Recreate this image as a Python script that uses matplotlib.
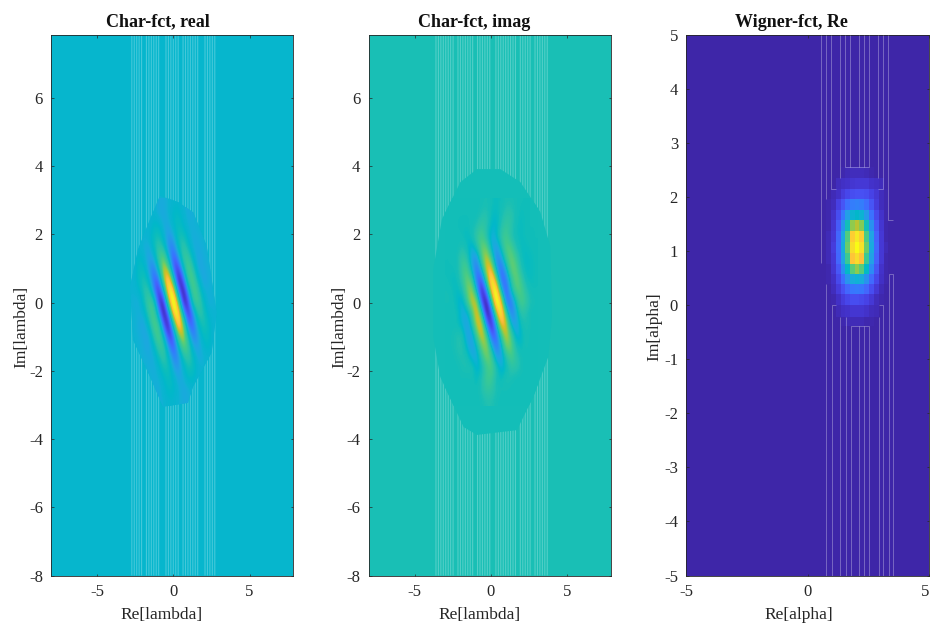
import numpy as np
import matplotlib
matplotlib.use('Agg')
import matplotlib.pyplot as plt
from matplotlib.colors import LinearSegmentedColormap, FuncNorm
from matplotlib.patches import Polygon

char_x = [-2.88, -2.56, -2.24, -1.92, -1.6, -1.28, -0.96, -0.64, -0.32, 0, 0.32, 0.64, 0.96, 1.28, 1.6, 1.92, 2.24, 2.56, 2.88]
char_re = [
    [38, 38, 38, 38, 38, 38, 36, 36, 38, 40, 40, 38, 36, 37, 38, 38, 38, 38, 38],
    [38, 38, 38, 38, 38, 40, 36, 35, 38, 42, 43, 39, 36, 37, 38, 38, 38, 38, 38],
    [38, 38, 38, 38, 38, 42, 42, 36, 35, 41, 45, 41, 37, 37, 38, 38, 38, 38, 38],
    [38, 38, 38, 38, 39, 45, 47, 39, 31, 35, 47, 47, 39, 36, 37, 38, 38, 38, 38],
    [38, 38, 39, 37, 35, 44, 53, 47, 29, 27, 43, 53, 45, 36, 36, 37, 38, 38, 38],
    [38, 39, 43, 39, 33, 35, 55, 64, 40, 18, 30, 54, 55, 41, 34, 36, 38, 38, 38],
    [38, 39, 44, 44, 33, 25, 43, 73, 64, 22, 13, 40, 61, 51, 35, 35, 37, 38, 38],
    [38, 38, 44, 49, 41, 22, 23, 65, 88, 49, 7, 19, 54, 60, 43, 34, 36, 38, 38],
    [38, 38, 40, 49, 52, 30, 11, 36, 88, 84, 26, 5, 34, 60, 53, 38, 37, 38, 38],
    [38, 37, 36, 45, 57, 52, 15, 9, 62, 100, 62, 9, 15, 52, 57, 45, 36, 37, 38],
    [38, 38, 37, 38, 53, 60, 34, 5, 26, 84, 88, 36, 11, 30, 52, 49, 40, 38, 38],
    [38, 38, 36, 34, 43, 60, 54, 19, 7, 49, 88, 65, 23, 22, 41, 49, 44, 38, 38],
    [38, 38, 37, 35, 35, 51, 61, 40, 13, 22, 64, 73, 43, 25, 33, 44, 44, 39, 38],
    [38, 38, 38, 36, 34, 41, 55, 54, 30, 18, 40, 64, 55, 35, 33, 39, 43, 39, 38],
    [38, 38, 38, 37, 36, 36, 45, 53, 43, 27, 29, 47, 53, 44, 35, 37, 39, 38, 38],
    [38, 38, 38, 38, 37, 36, 39, 47, 47, 35, 31, 39, 47, 45, 39, 38, 38, 38, 38],
    [38, 38, 38, 38, 38, 37, 37, 41, 45, 41, 35, 36, 42, 42, 38, 38, 38, 38, 38],
    [38, 38, 38, 38, 38, 37, 36, 39, 43, 42, 38, 35, 36, 40, 38, 38, 38, 38, 38],
    [38, 38, 38, 38, 38, 37, 36, 38, 40, 40, 38, 36, 36, 38, 38, 38, 38, 38, 38],
]
char_im = [
    [47, 47, 47, 47, 47, 47, 47, 48, 49, 47, 46, 47, 49, 49, 48, 47, 47, 47, 47],
    [47, 47, 47, 47, 47, 47, 47, 50, 51, 46, 45, 48, 52, 52, 48, 46, 47, 47, 47],
    [47, 47, 47, 47, 47, 47, 50, 54, 52, 44, 43, 50, 55, 52, 47, 46, 47, 47, 47],
    [47, 47, 47, 47, 45, 48, 54, 59, 50, 40, 44, 54, 58, 50, 47, 46, 47, 47, 47],
    [47, 47, 47, 50, 47, 41, 50, 63, 63, 41, 35, 48, 61, 59, 49, 46, 46, 47, 47],
    [47, 47, 48, 55, 52, 37, 33, 60, 75, 57, 29, 36, 56, 64, 57, 47, 45, 46, 47],
    [47, 47, 47, 56, 60, 42, 25, 43, 76, 80, 40, 23, 42, 63, 62, 50, 45, 46, 47],
    [47, 46, 46, 53, 64, 59, 25, 19, 59, 93, 70, 23, 27, 52, 64, 57, 47, 46, 47],
    [48, 47, 45, 47, 62, 72, 44, 6, 29, 81, 96, 47, 19, 45, 59, 60, 52, 47, 47],
    [48, 48, 45, 41, 53, 74, 72, 20, 3, 50, 98, 80, 28, 26, 47, 59, 55, 49, 48],
    [47, 47, 48, 40, 41, 55, 81, 53, 4, 19, 71, 94, 56, 28, 38, 53, 50, 47, 47],
    [47, 47, 47, 43, 36, 48, 73, 77, 30, 7, 41, 81, 75, 41, 36, 47, 50, 48, 47],
    [47, 48, 50, 50, 38, 37, 58, 77, 60, 20, 24, 57, 75, 58, 40, 44, 49, 47, 47],
    [47, 48, 50, 51, 43, 36, 44, 64, 71, 43, 25, 40, 67, 63, 48, 45, 49, 47, 47],
    [47, 47, 49, 50, 49, 41, 39, 52, 65, 59, 37, 37, 50, 59, 53, 48, 47, 47, 47],
    [47, 47, 47, 49, 50, 50, 42, 46, 56, 60, 50, 41, 46, 52, 52, 49, 47, 47, 47],
    [47, 47, 47, 48, 47, 48, 45, 50, 57, 56, 48, 46, 50, 49, 47, 47, 47, 47, 47],
    [47, 47, 47, 47, 47, 48, 47, 50, 54, 53, 49, 48, 48, 47, 47, 47, 47, 47, 47],
    [47, 47, 47, 47, 47, 47, 47, 48, 50, 50, 48, 47, 47, 47, 47, 47, 47, 47, 47],
]
# value -> colour position, so the tables above stay as they were read
scale_re = [0, 15, 38, 40, 60, 82, 100]
pos_re = [0, 0.05, 0.44, 0.45, 0.62, 0.97, 1]
scale_im = [0, 15, 47, 49, 65, 85, 100]
pos_im = [0, 0.05, 0.50, 0.51, 0.66, 0.97, 1]

edge_re_x = [-0.87, 0.33, 1.31, 2.19, 2.84, 2.51, 1.29, 0.96, -0.67, -1.52, -2.64, -2.83, -2.31, -1.52]
edge_re_y = [3.13, 2.94, 2.64, 1.66, -0.29, -1.47, -2.47, -2.94, -3.06, -2.18, -1.09, 0.47, 1.56, 2.44]
edge_im_x = [-0.92, 0.61, 1.92, 3.23, 3.88, 3.99, 3.75, 2.77, 1.7, -0.92, -1.79, -3.32, -3.78, -3.78, -3.21, -2.0]
edge_im_y = [3.91, 3.91, 3.53, 2.65, 1.65, -0.41, -1.59, -2.76, -3.74, -3.88, -3.65, -2.18, -1.0, 0.97, 2.44, 3.53]
stripes_re = [-2.72, -2.56, -2.4, -2.24, -2.08, -1.76, -1.6, -1.44, -1.28, -1.12, -0.96, -0.48, -0.32, -0.16, 0, 0.16, 0.32,
              0.64, 0.8, 0.96, 1.12, 1.28, 1.44, 1.6, 2.08, 2.24, 2.4, 2.56, 2.72]
stripes_im = [-3.6, -3.44, -3.28, -3.12, -2.96, -2.8, -2.64, -2.48, -2.16, -2.0, -1.84, -1.68, -1.52, -1.36, -1.2,
              -0.88, -0.72, -0.56, -0.4, -0.24, -0.08, 0.32, 0.48, 0.64, 0.8, 0.96, 1.12, 1.28, 1.44, 1.6,
              1.92, 2.08, 2.24, 2.4, 2.56, 2.88, 3.04, 3.2, 3.36, 3.52, 3.68]

# wigner cell edges and values, rows from the top
wig_x = [0.75, 0.95, 1.15, 1.35, 1.55, 1.75, 1.93, 2.12, 2.33, 2.53, 2.72, 2.92, 3.12, 3.32]
wig_y = [2.55, 2.35, 2.15, 1.96, 1.77, 1.57, 1.37, 1.17, 0.97, 0.77, 0.58, 0.39, 0.2, 0.0, -0.21, -0.39]
wigner = [
    [0, 0, 0, 1, 2, 3, 3, 3, 2, 1, 0, 0, 0],
    [0, 0, 3, 4, 5, 6, 7, 7, 7, 5, 4, 3, 0],
    [0, 2, 4, 8, 11, 13, 14, 14, 13, 10, 7, 3, 1],
    [1, 3, 9, 15, 22, 26, 27, 26, 22, 15, 8, 3, 1],
    [1, 5, 13, 24, 36, 44, 46, 44, 35, 23, 12, 5, 1],
    [1, 6, 17, 33, 50, 68, 73, 67, 50, 32, 16, 6, 1],
    [2, 7, 20, 39, 61, 88, 95, 88, 60, 38, 19, 7, 1],
    [2, 8, 21, 41, 64, 92, 100, 93, 64, 40, 20, 7, 2],
    [2, 7, 20, 38, 58, 86, 92, 85, 58, 37, 19, 7, 1],
    [1, 6, 16, 31, 47, 62, 68, 62, 47, 30, 15, 5, 1],
    [1, 4, 12, 22, 33, 41, 43, 41, 32, 21, 11, 4, 1],
    [0, 3, 8, 14, 20, 24, 25, 24, 20, 13, 7, 2, 0],
    [0, 1, 4, 8, 11, 13, 13, 12, 10, 7, 3, 1, 0],
    [0, 0, 2, 4, 5, 6, 6, 6, 5, 3, 2, 0, 0],
    [0, 0, 0, 1, 2, 2, 2, 2, 1, 1, 0, 0, 0],
]
# thin lines in the wigner panel: x, and where they stop coming from top / bottom
wig_top_x = [0.54, 0.75, 0.95, 1.34, 1.54, 1.75, 2.12, 2.33, 2.52, 2.9, 3.11, 3.31]
wig_top_y = [0.79, 1.96, 2.15, 2.35, 2.55, 2.55, 2.55, 2.55, 2.55, 2.35, 2.15, 1.58]
wig_bot_x = [0.75, 0.98, 1.34, 1.56, 1.77, 2.12, 2.33, 2.53, 2.92, 3.11, 3.33, 3.49]
wig_bot_y = [0.39, 0.01, -0.21, -0.21, -0.39, -0.39, -0.39, -0.39, -0.21, 0.01, 0.58, 0.58]

parula_pos = [0, 3, 6, 9, 12, 15, 18, 21, 24, 27, 29, 31, 33, 35, 37, 39, 41, 43, 45, 47, 49, 51, 53, 55, 57, 59, 61, 63]
parula_col = [(0.2422, 0.1504, 0.6603), (0.2647, 0.1978, 0.7952), (0.2783, 0.2559, 0.8991), (0.2810, 0.3228, 0.9579),
              (0.2699, 0.3892, 0.9906), (0.2206, 0.4603, 0.9973), (0.1786, 0.5289, 0.9682), (0.1540, 0.5902, 0.9218),
              (0.1248, 0.6459, 0.8883), (0.0689, 0.6948, 0.8394), (0.0036, 0.7203, 0.7917), (0.0433, 0.7411, 0.7394),
              (0.1408, 0.7584, 0.6842), (0.1938, 0.7758, 0.6251), (0.2470, 0.7918, 0.5567), (0.3406, 0.8008, 0.4789),
              (0.4456, 0.8024, 0.3909), (0.5616, 0.7942, 0.3045), (0.6720, 0.7793, 0.2227), (0.7738, 0.7598, 0.1646),
              (0.8634, 0.7406, 0.1596), (0.9393, 0.7288, 0.2100), (0.9956, 0.7434, 0.2371), (0.9952, 0.7893, 0.2028),
              (0.9786, 0.8386, 0.1766), (0.9610, 0.8890, 0.1537), (0.9628, 0.9373, 0.1265), (0.9769, 0.9839, 0.0805)]
parula = LinearSegmentedColormap.from_list('parula', [(p / 63, c) for p, c in zip(parula_pos, parula_col)], N=256)

plt.rcParams['font.family'] = ['Liberation Serif', 'DejaVu Serif']
plt.rcParams['axes.unicode_minus'] = False
plt.rcParams['font.size'] = 12
dark = '#262626'
W, H = 931, 630

fig = plt.figure(figsize=(9.31, 6.3), dpi=100)


def panel(left, right, title, title_x, xname, yname, xlab_x):
    ax = fig.add_axes([left / W, (H - 575.5) / H, (right - left) / W, 540.5 / H])
    ax.set_title(title, fontweight='bold', fontsize=13, x=title_x, pad=6, color='#111111')
    ax.set_xlabel(xname, color=dark, labelpad=5.5, x=xlab_x, fontsize=12.5)
    ax.set_ylabel(yname, color=dark, y=0.46, fontsize=12.5)
    ax.tick_params(direction='in', length=1.8, width=0.5, top=True, right=True, colors=dark, labelsize=12, pad=6)
    for s in ax.spines.values():
        s.set_linewidth(0.6)
        s.set_color(dark)
    return ax


def char_panel(ax, table, edge_x, edge_y, stripes, bg, low, scale, pos):
    norm = FuncNorm((lambda v: np.interp(v, scale, pos), lambda t: np.interp(t, pos, scale)), vmin=0, vmax=100)
    ax.set_facecolor(parula(float(norm(bg))))
    ax.vlines(stripes, -8, 7.84, color='white', alpha=0.25, lw=0.8, zorder=1, snap=False)
    blob = Polygon(np.column_stack([edge_x, edge_y]), closed=True, fc=parula(float(norm(low))), ec='none', zorder=2)
    ax.add_patch(blob)
    step = char_x[1] - char_x[0]
    ext = [char_x[0] - step / 2, char_x[-1] + step / 2, char_x[0] - step / 2, char_x[-1] + step / 2]
    im = ax.imshow(table, cmap=parula, norm=norm, extent=ext, origin='upper', aspect='auto',
                   interpolation='bicubic', zorder=3)
    im.set_clip_path(blob)
    ax.set_xlim(-8, 7.87)
    ax.set_ylim(-8, 7.84)
    ax.set_xticks([-5, 0, 5])
    ax.set_yticks([-8, -6, -4, -2, 0, 2, 4, 6])


ax1 = panel(51.3, 293.3, 'Char-fct, real', 0.441, 'Re[lambda]', 'Im[lambda]', 0.455)
char_panel(ax1, char_re, edge_re_x, edge_re_y, stripes_re, 40, 38, scale_re, pos_re)
ax1.yaxis.set_label_coords(-0.09, 0.46)

ax2 = panel(368.7, 611.3, 'Char-fct, imag', 0.434, 'Re[lambda]', 'Im[lambda]', 0.455)
char_panel(ax2, char_im, edge_im_x, edge_im_y, stripes_im, 49, 47, scale_im, pos_im)
ax2.yaxis.set_label_coords(-0.09, 0.46)

ax3 = panel(686.3, 929.3, 'Wigner-fct, Re', 0.433, 'Re[alpha]', 'Im[alpha]', 0.462)
ax3.set_facecolor(parula(0.0))
ax3.pcolormesh(wig_x, wig_y, wigner, cmap=parula, vmin=0, vmax=100, zorder=2)
ax3.vlines(wig_top_x, wig_top_y, 5, color='white', alpha=0.3, lw=0.7, zorder=3)
ax3.vlines(wig_bot_x, -5, wig_bot_y, color='white', alpha=0.3, lw=0.7, zorder=3)
ax3.hlines([2.55, 2.15, 2.15, 1.58, -0.39, 0.01, 0.01, 0.58], [1.54, 0.95, 2.9, 3.31, 1.77, 0.98, 2.92, 3.33],
           [2.52, 1.15, 3.11, 3.52, 2.53, 1.15, 3.11, 3.49], color='white', alpha=0.3, lw=0.7, zorder=3)
ax3.set_xlim(-5, 5)
ax3.set_ylim(-5, 5)
ax3.set_xticks([-5, 0, 5])
ax3.set_yticks([-5, -4, -3, -2, -1, 0, 1, 2, 3, 4, 5])
ax3.yaxis.set_label_coords(-0.098, 0.46)
ax3.get_xticklabels()[2].set_ha('right')

fig.savefig('out.png', dpi=100)
